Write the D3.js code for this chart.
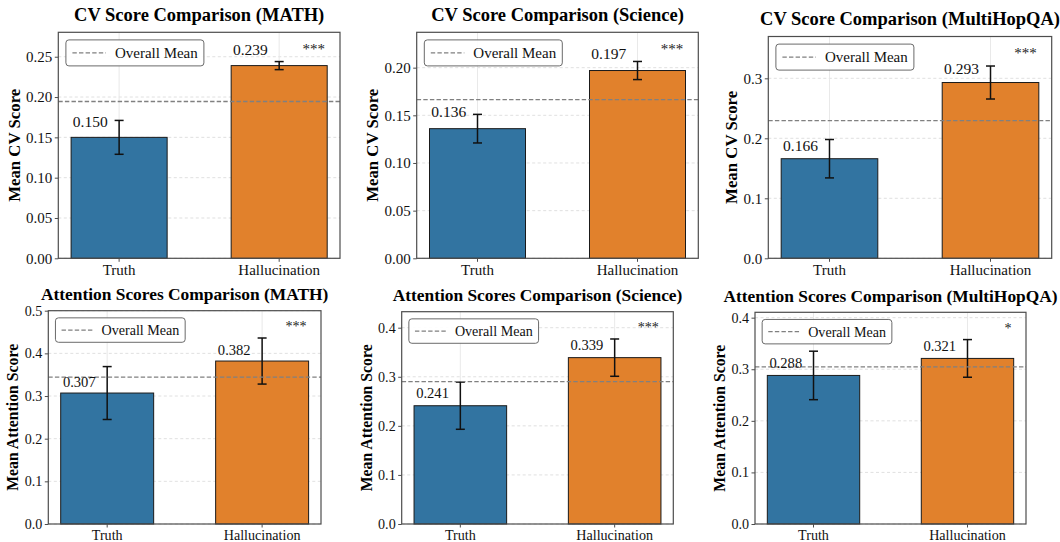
<!DOCTYPE html>
<html>
<head>
<meta charset="utf-8">
<script src="https://cdn.jsdelivr.net/npm/d3@7"></script>
<style>
  html, body { margin: 0; padding: 0; background: #fff; }
  svg { display: block; font-family: "Liberation Serif", "Times New Roman", serif; }
</style>
</head>
<body>
<svg id="chart" width="1060" height="542"></svg>
<script>
// ---------------- DATA ----------------
const categories = ["Truth", "Hallucination"];
const datasets = ["MATH", "Science", "MultiHopQA"];
const metricTitles = ["CV Score Comparison", "Attention Scores Comparison"];
const metricYLabels = ["Mean CV Score", "Mean Attention Score"];

const cvTruth = [0.150, 0.136, 0.166];
const cvHallucination = [0.239, 0.197, 0.293];
const cvTruthErr = [0.021, 0.015, 0.032];
const cvHallucinationErr = [0.005, 0.0095, 0.0275];
const cvOverallMean = [0.1945, 0.1665, 0.2295];
const cvSignificance = ["***", "***", "***"];
const cvYMax = [0.2803, 0.2371, 0.3697];
const cvYTicks = [
  [0, 0.05, 0.10, 0.15, 0.20, 0.25],
  [0, 0.05, 0.10, 0.15, 0.20],
  [0, 0.1, 0.2, 0.3]
];
const cvTickDecimals = [2, 2, 1];

const attnTruth = [0.307, 0.241, 0.288];
const attnHallucination = [0.382, 0.339, 0.321];
const attnTruthErr = [0.062, 0.048, 0.047];
const attnHallucinationErr = [0.054, 0.038, 0.0365];
const attnOverallMean = [0.3445, 0.290, 0.3045];
const attnSignificance = ["***", "***", "*"];
const attnYMax = [0.5, 0.4326, 0.4104];
const attnYTicks = [
  [0, 0.1, 0.2, 0.3, 0.4, 0.5],
  [0, 0.1, 0.2, 0.3, 0.4],
  [0, 0.1, 0.2, 0.3, 0.4]
];
const attnTickDecimals = [1, 1, 1];

const legendLabel = "Overall Mean";

// ---------------- LAYOUT (positions / styles) ----------------
const axesRects = [
  [58.3, 32.3, 340.0, 258.3],
  [416.7, 32.3, 698.3, 258.3],
  [768.3, 36.5, 1051.7, 258.3],
  [48.3, 310.7, 321.0, 524.0],
  [401.7, 311.7, 673.3, 524.0],
  [755.0, 312.3, 1026.0, 524.0]
];
const labelOffsets = [15.6, 17, 13.7, 11.3, 12.4, 12.7];
const rowScale = [1, 0.94];
const barColors = ["#3274a1", "#e1812c"];

const panels = [];
datasets.forEach((ds, i) => {
  panels.push({
    title: `${metricTitles[0]} (${ds})`, ylabel: metricYLabels[0],
    values: [cvTruth[i], cvHallucination[i]], errs: [cvTruthErr[i], cvHallucinationErr[i]],
    mean: cvOverallMean[i], sig: cvSignificance[i], ymax: cvYMax[i],
    ticks: cvYTicks[i], dec: cvTickDecimals[i], row: 0
  });
});
datasets.forEach((ds, i) => {
  panels.push({
    title: `${metricTitles[1]} (${ds})`, ylabel: metricYLabels[1],
    values: [attnTruth[i], attnHallucination[i]], errs: [attnTruthErr[i], attnHallucinationErr[i]],
    mean: attnOverallMean[i], sig: attnSignificance[i], ymax: attnYMax[i],
    ticks: attnYTicks[i], dec: attnTickDecimals[i], row: 1
  });
});

const svg = d3.select("#chart");
svg.append("rect").attr("width", 1060).attr("height", 542).attr("fill", "#fff");

panels.forEach((p, pi) => {
  const [l, t, r, b] = axesRects[pi];
  const w = r - l, h = b - t;
  const s = rowScale[p.row];
  const g = svg.append("g").attr("transform", `translate(${l},${t})`);

  const x = d3.scaleBand().domain(categories).range([0, w]).paddingInner(0.4).paddingOuter(0.08);
  const y = d3.scaleLinear().domain([0, p.ymax]).range([h, 0]);

  // grid
  g.append("g").selectAll("line").data(p.ticks).join("line")
    .attr("x1", 0).attr("x2", w).attr("y1", d => y(d)).attr("y2", d => y(d))
    .attr("stroke", "#d8d8d8").attr("stroke-width", 0.8).attr("stroke-dasharray", "3,2.5");
  g.append("g").selectAll("line").data(categories).join("line")
    .attr("x1", d => x(d) + x.bandwidth() / 2).attr("x2", d => x(d) + x.bandwidth() / 2)
    .attr("y1", 0).attr("y2", h)
    .attr("stroke", "#e6e6e6").attr("stroke-width", 0.9);

  const data = categories.map((c, i) => ({ c, v: p.values[i], e: p.errs[i], color: barColors[i] }));

  // bars
  g.append("g").selectAll("rect").data(data).join("rect")
    .attr("x", d => x(d.c)).attr("width", x.bandwidth())
    .attr("y", d => y(d.v)).attr("height", d => h - y(d.v))
    .attr("fill", d => d.color).attr("stroke", "#1a1a1a").attr("stroke-width", 1);

  // error bars
  const eb = g.append("g").attr("stroke", "#111").attr("stroke-width", 1.5);
  data.forEach(d => {
    const cx = x(d.c) + x.bandwidth() / 2;
    eb.append("line").attr("x1", cx).attr("x2", cx).attr("y1", y(d.v + d.e)).attr("y2", y(d.v - d.e));
    eb.append("line").attr("x1", cx - 4.5).attr("x2", cx + 4.5).attr("y1", y(d.v + d.e)).attr("y2", y(d.v + d.e));
    eb.append("line").attr("x1", cx - 4.5).attr("x2", cx + 4.5).attr("y1", y(d.v - d.e)).attr("y2", y(d.v - d.e));
  });

  // overall mean line
  g.append("line").attr("x1", 0).attr("x2", w).attr("y1", y(p.mean)).attr("y2", y(p.mean))
    .attr("stroke", "#808080").attr("stroke-width", 1.3).attr("stroke-dasharray", "4.4,2.2");

  // value labels
  g.append("g").selectAll("text").data(data).join("text")
    .attr("x", d => x(d.c) + 0.2 * x.bandwidth())
    .attr("y", d => y(d.v) - labelOffsets[pi])
    .attr("text-anchor", "middle").attr("dominant-baseline", "central")
    .attr("font-size", 15.5 * s).attr("fill", "#111")
    .text(d => d3.format(".3f")(d.v));

  // significance
  g.append("text").attr("x", 0.947 * w).attr("y", 0.096 * h)
    .attr("text-anchor", "end").attr("font-size", 15 * s).attr("fill", "#222")
    .text(p.sig);

  // legend
  const lg = g.append("g").attr("transform", `translate(${7.6 * s},${7.6 * s})`);
  lg.append("rect").attr("width", 138 * s).attr("height", 26 * s).attr("rx", 3)
    .attr("fill", "#fff").attr("fill-opacity", 0.9).attr("stroke", "#6a6a6a").attr("stroke-width", 1);
  lg.append("line").attr("x1", 6.5 * s).attr("x2", 40 * s).attr("y1", 13 * s).attr("y2", 13 * s)
    .attr("stroke", "#808080").attr("stroke-width", 1.3).attr("stroke-dasharray", "4.4,2.2");
  lg.append("text").attr("x", 49 * s).attr("y", 13 * s).attr("dominant-baseline", "central")
    .attr("font-size", 15 * s).attr("fill", "#111").text(legendLabel);

  // spines
  g.append("rect").attr("width", w).attr("height", h).attr("fill", "none")
    .attr("stroke", "#4d4d4d").attr("stroke-width", 1.2);

  // axes
  const fmt = d3.format(`.${p.dec}f`);
  const ya = g.append("g").call(d3.axisLeft(y).tickValues(p.ticks).tickFormat(fmt).tickSize(3.5).tickPadding(2.5));
  const xa = g.append("g").attr("transform", `translate(0,${h})`)
    .call(d3.axisBottom(x).tickSize(3.5).tickPadding(2.5));
  [ya, xa].forEach(a => {
    a.select(".domain").remove();
    a.selectAll(".tick line").attr("stroke", "#4d4d4d").attr("stroke-width", 1);
    a.selectAll(".tick text").attr("font-family", "Liberation Serif, Times New Roman, serif")
      .attr("font-size", 15 * s).attr("fill", "#111");
  });

  // title
  g.append("text").attr("x", w / 2).attr("y", -11.5 * s)
    .attr("text-anchor", "middle").attr("font-weight", "bold").attr("font-size", 18.5 * s)
    .attr("fill", "#000").text(p.title);

  // y label placed left of tick labels
  const bb = ya.node().getBBox();
  const lx = bb.x - 6.5;
  g.append("text").attr("transform", `translate(${lx},${h / 2}) rotate(-90)`)
    .attr("text-anchor", "middle").attr("font-weight", "bold").attr("font-size", 16.8 * s)
    .attr("fill", "#000").text(p.ylabel);
});
</script>
</body>
</html>
